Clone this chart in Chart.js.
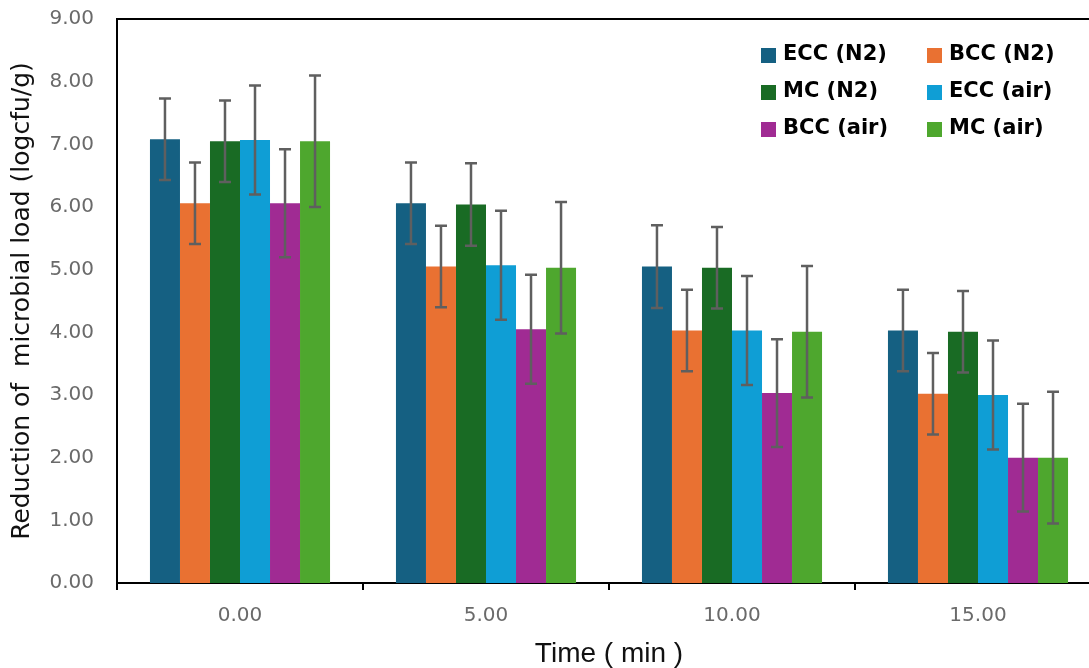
<!DOCTYPE html>
<html>
<head>
<meta charset="utf-8">
<script src="https://cdn.jsdelivr.net/npm/chart.js@4.4.0/dist/chart.umd.min.js"></script>
<style>
  html, body { margin: 0; padding: 0; background: #fff; overflow: hidden; }
  #wrap { position: relative; width: 1101px; height: 668px; }
</style>
</head>
<body>
<div id="wrap"><canvas id="myChart"></canvas></div>
<script>
// categories (time, min)
var timeLabels = ['0.00', '5.00', '10.00', '15.00'];

// series names
var seriesNames = ['ECC (N2)', 'BCC (N2)', 'MC (N2)', 'ECC (air)', 'BCC (air)', 'MC (air)'];

// mean reduction values per series
var eccN2 = [7.08, 6.06, 5.05, 4.03];
var bccN2 = [6.06, 5.05, 4.03, 3.02];
var mcN2 = [7.05, 6.04, 5.03, 4.01];
var eccAir = [7.07, 5.07, 4.03, 3.00];
var bccAir = [6.06, 4.05, 3.03, 2.00];
var mcAir = [7.05, 5.03, 4.01, 2.00];

// error bar half-lengths per series
var eccN2Err = [0.65, 0.65, 0.66, 0.65];
var bccN2Err = [0.65, 0.65, 0.65, 0.65];
var mcN2Err = [0.65, 0.66, 0.65, 0.65];
var eccAirErr = [0.87, 0.87, 0.87, 0.87];
var bccAirErr = [0.86, 0.87, 0.86, 0.86];
var mcAirErr = [1.05, 1.05, 1.05, 1.05];

// y axis ticks
var yMin = 0, yMax = 9, yStep = 1;

var seriesColors = ['#156082', '#E97132', '#196B24', '#0F9ED5', '#A02B93', '#4EA72E'];
var allValues = [eccN2, bccN2, mcN2, eccAir, bccAir, mcAir];
var allErrors = [eccN2Err, bccN2Err, mcN2Err, eccAirErr, bccAirErr, mcAirErr];

var datasets = [];
for (var i = 0; i < seriesNames.length; i++) {
   datasets.push({
      label: seriesNames[i],
      data: allValues[i],
      errors: allErrors[i],
      backgroundColor: seriesColors[i],
      borderWidth: 0
   });
}

//plugin to draw error bars through the y scale
var errorBars = {
   id: 'errorBars',
   afterDatasetsDraw: function(chart){
      var ctx = chart.ctx;
      var yScale = chart.scales.y;
      ctx.save();
      ctx.strokeStyle = '#5f5f5f';
      ctx.lineWidth = 2.5;
      chart.data.datasets.forEach(function(ds, d){
         var meta = chart.getDatasetMeta(d);
         meta.data.forEach(function(bar, k){
            var v = ds.data[k], e = ds.errors[k];
            var yt = yScale.getPixelForValue(v + e);
            var yb = yScale.getPixelForValue(v - e);
            ctx.beginPath();
            ctx.moveTo(bar.x, yt); ctx.lineTo(bar.x, yb);
            ctx.moveTo(bar.x - 6, yt); ctx.lineTo(bar.x + 6, yt);
            ctx.moveTo(bar.x - 6, yb); ctx.lineTo(bar.x + 6, yb);
            ctx.stroke();
         });
      });
      ctx.restore();
   }
};

//plugin for top frame line and the legend inside the plot
var frameLegend = {
   id: 'frameLegend',
   afterDraw: function(chart){
      var ctx = chart.ctx;
      var a = chart.chartArea;
      ctx.save();
      ctx.strokeStyle = '#000';
      ctx.lineWidth = 2;
      ctx.beginPath();
      ctx.moveTo(a.left - 1, a.top);
      ctx.lineTo(a.right, a.top);
      ctx.stroke();
      // legend, two columns by three rows
      var colX = [761, 927];
      var rowY = [55, 92, 129];
      ctx.font = 'bold 21px "DejaVu Sans"';
      ctx.textBaseline = 'middle';
      ctx.fillStyle = '#000';
      chart.data.datasets.forEach(function(ds, i){
         var cx = colX[i % 2], cy = rowY[Math.floor(i / 2)];
         ctx.fillStyle = ds.backgroundColor;
         ctx.fillRect(cx, cy - 7, 15, 15);
         ctx.fillStyle = '#000';
         ctx.fillText(ds.label, cx + 22, cy);
      });
      ctx.restore();
   }
};

var ctx = document.getElementById('myChart').getContext('2d');
var chart = new Chart(ctx, {
   type: 'bar',
   data: {
      labels: timeLabels,
      datasets: datasets
   },
   options: {
      responsive: true,
      maintainAspectRatio: false,
      animation: false,
      layout: { padding: { top: 19, left: 0, right: 0, bottom: 0 } },
      datasets: { bar: { categoryPercentage: 0.732, barPercentage: 1 } },
      plugins: { legend: { display: false }, tooltip: { enabled: false } },
      scales: {
         x: {
            grid: { display: true, drawOnChartArea: false, drawTicks: true, tickLength: 7, color: '#000', lineWidth: 2, offset: true },
            border: { display: true, color: '#000', width: 2 },
            ticks: { color: '#6a6a6a', font: { family: 'DejaVu Sans', size: 20 }, padding: 14 },
            title: { display: true, text: 'Time ( min )', color: '#111', font: { family: 'Liberation Sans', size: 28, lineHeight: 1 }, padding: { top: 0, bottom: 0 } },
            afterFit: function(scale){ scale.height = 85; }
         },
         y: {
            min: yMin,
            max: yMax,
            grid: { display: false, drawTicks: false },
            border: { display: true, color: '#000', width: 2 },
            ticks: {
               stepSize: yStep,
               color: '#6a6a6a',
               font: { family: 'DejaVu Sans', size: 20 },
               padding: 23,
               callback: function(v){ return v.toFixed(2); }
            },
            title: { display: true, text: 'Reduction of  microbial load (logcfu/g)', color: '#111', font: { family: 'DejaVu Sans', size: 25 }, padding: { top: 7, bottom: 0 } },
            afterFit: function(scale){ scale.width = 117; scale.paddingTop = 0; scale.paddingBottom = 0; }
         }
      }
   },
   plugins: [errorBars, frameLegend]
});
</script>
</body>
</html>
